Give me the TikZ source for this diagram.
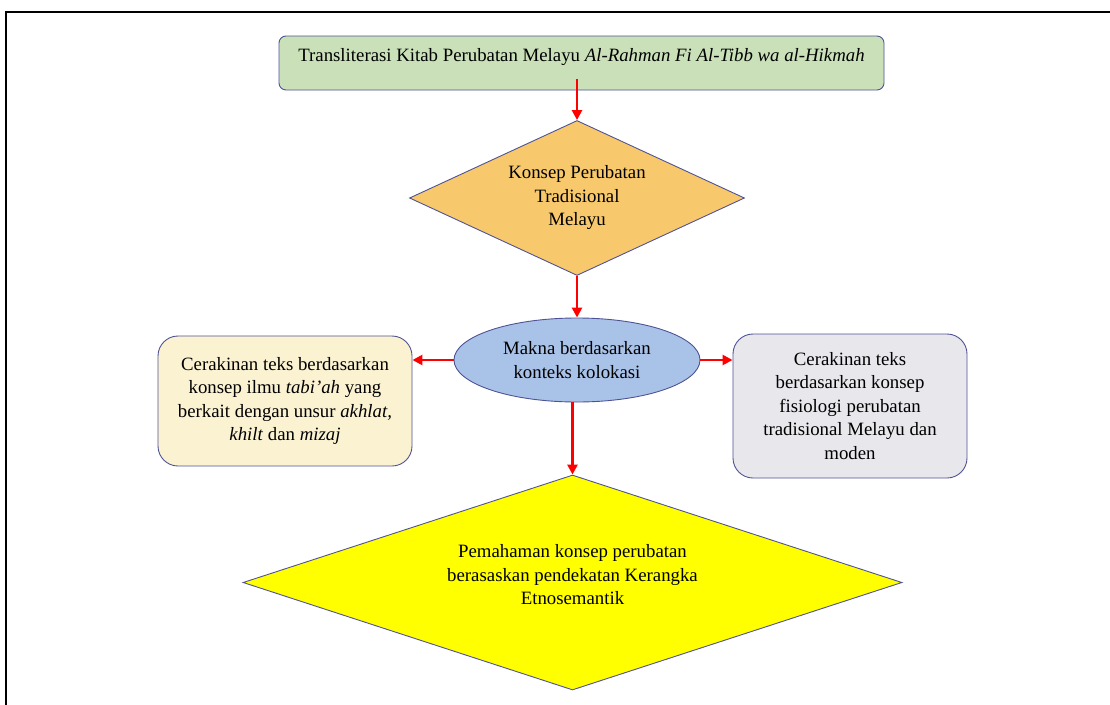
\documentclass[tikz,border=0pt]{standalone}
\usepackage{fontspec}
\setmainfont{Liberation Serif}
\usetikzlibrary{shapes.geometric,arrows.meta}
\definecolor{edge}{HTML}{4F5395}
\definecolor{topgreen}{HTML}{C9E0B8}
\definecolor{gold}{HTML}{F7C96C}
\definecolor{ellblue}{HTML}{A9C2E7}
\definecolor{cream}{HTML}{FBF2D2}
\definecolor{lgray}{HTML}{E7E7EC}
\definecolor{arrred}{HTML}{FF0000}
\definecolor{pureyellow}{HTML}{FFFF00}
\begin{document}
\begin{tikzpicture}[x=1pt,y=-1pt,
  every node/.style={font=\fontsize{18.8}{23.5}\selectfont, text=black},
  rbox/.style={draw=edge, line width=0.9pt, rectangle, inner sep=0pt, align=center},
  dia/.style={draw=edge, line width=0.9pt, diamond, inner sep=0pt, align=center},
  txt/.style={inner sep=0pt, align=center},
  arr/.style={draw=arrred, line width=2.6pt, -{Triangle[length=10pt,width=10pt]}}
]
\useasboundingbox (0,0) rectangle (1110,704);
\begin{scope}
  \clip (0,0) rectangle (1110,704);
  \draw[line width=2.5pt] (6,12) rectangle (1140,740);
\end{scope}

\node[rbox, fill=topgreen, minimum width=605pt, minimum height=54pt, rounded corners=7pt] (top) at (581.5,63) {};
\node[txt] (toptext) at (581.5,57) {Transliterasi Kitab Perubatan Melayu \textit{Al-Rahman Fi Al-Tibb wa al-Hikmah}};

\node[dia, fill=gold, minimum width=335pt, minimum height=155pt, shape aspect=2.16] (d1) at (577,198) {Konsep Perubatan\\Tradisional\\Melayu};

\node[draw=edge, line width=0.9pt, ellipse, fill=ellblue, minimum width=246pt, minimum height=84pt, inner sep=0pt, align=center] (ell) at (577,360) {Makna berdasarkan\\konteks kolokasi};

\node[rbox, fill=cream, minimum width=254pt, minimum height=130pt, rounded corners=20pt] (lb) at (285,401) {Cerakinan teks berdasarkan\\konsep ilmu \textit{tabi’ah} yang\\berkait dengan unsur \textit{akhlat,}\\\textit{khilt} dan \textit{mizaj}};

\node[rbox, fill=lgray, minimum width=234pt, minimum height=144pt, rounded corners=20pt] (rb) at (850,406) {Cerakinan teks\\berdasarkan konsep\\fisiologi perubatan\\tradisional Melayu dan\\moden};

\node[dia, fill=pureyellow, minimum width=659pt, minimum height=215pt, shape aspect=3.07] (d2) at (572.5,582.5) {};
\node[txt] (d2text) at (572.5,575) {Pemahaman konsep perubatan\\berasaskan pendekatan Kerangka\\Etnosemantik};

\draw[arr] ([yshift=11pt]top.south -| d1.north) -- (d1.north);
\draw[arr] (d1.south) -- (ell.north);
\draw[arr] (ell.west) -- (ell.west -| lb.east);
\draw[arr] (ell.east) -- (ell.east -| rb.west);
\draw[arr] (ell.south -| d2.north) -- (d2.north);
\end{tikzpicture}
\end{document}
